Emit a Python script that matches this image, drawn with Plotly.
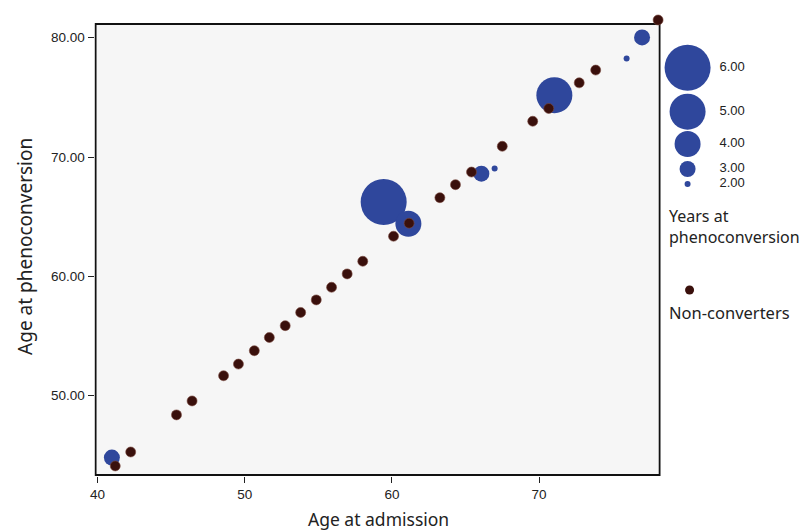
import plotly.graph_objects as go

# ---------------- data ----------------
conv_admission = [40.97, 59.44, 61.12, 66.08, 66.98, 71.04, 75.95, 77.00]
conv_pheno = [44.80, 66.22, 64.40, 68.60, 69.03, 75.18, 78.27, 80.03]
conv_years = [3, 6, 4, 3, 2, 5, 2, 3]

non_admission = [41.20, 42.25, 45.36, 46.42, 48.56, 49.57, 50.65, 51.67, 52.75, 53.80,
                 54.86, 55.90, 56.96, 58.02, 60.11, 61.17, 63.26, 64.32, 65.41, 67.50,
                 69.57, 70.66, 72.73, 73.85, 78.09]
non_pheno = [44.10, 45.27, 48.38, 49.55, 51.66, 52.64, 53.76, 54.87, 55.86, 56.97,
             58.02, 59.08, 60.20, 61.26, 63.36, 64.45, 66.59, 67.68, 68.74, 70.90,
             73.00, 74.07, 76.22, 77.29, 81.49]

legend_years = [6, 5, 4, 3, 2]
legend_labels = ["6.00", "5.00", "4.00", "3.00", "2.00"]

x_ticks = [40, 50, 60, 70]
y_ticks = [50, 60, 70, 80]

# ---------------- style ----------------
W, H = 803, 531
BLUE = "#2f479c"
BROWN = "#3a100c"

PX_PER_X = 14.8
PX_PER_Y = 11.9
X_FRAME = [39.86, 78.2]    # visible frame of the plot
Y_FRAME = [43.34, 81.15]
PAD = 1.0                  # pixels of axis beyond the frame (so frame line isn't clipped)
Y_TOP = 82.0               # axis extends above the frame so the corner dot shows

X_RANGE = [X_FRAME[0] - PAD / PX_PER_X, X_FRAME[1] + PAD / PX_PER_X]
Y_RANGE = [Y_FRAME[0] - PAD / PX_PER_Y, Y_TOP]


def diam(v):
    return 10 * v - 14


# layout positions (pixels) of legend rows
legend_row_px = [67.7, 111.7, 144, 169, 184]
legend_x_px = 687
legend_text_x_px = 719

fig = go.Figure()

fig.add_trace(go.Scatter(
    x=conv_admission, y=conv_pheno, mode="markers",
    marker=dict(color=BLUE, size=[diam(v) for v in conv_years], sizemode="diameter",
                line=dict(width=0), opacity=1),
    cliponaxis=False, showlegend=False, hoverinfo="x+y"))

fig.add_trace(go.Scatter(
    x=non_admission, y=non_pheno, mode="markers",
    marker=dict(color=BROWN, size=10, opacity=1, line=dict(width=0.6, color="#7a4a40")),
    cliponaxis=False, showlegend=False, hoverinfo="x+y"))

# legend subplot (pixel coordinates)
fig.add_trace(go.Scatter(
    x=[legend_x_px] * len(legend_years), y=legend_row_px, mode="markers",
    marker=dict(color=BLUE, size=[diam(v) for v in legend_years], sizemode="diameter",
                line=dict(width=0), opacity=1),
    xaxis="x2", yaxis="y2", showlegend=False, hoverinfo="skip", cliponaxis=False))
fig.add_trace(go.Scatter(
    x=[legend_text_x_px] * len(legend_labels), y=legend_row_px, mode="text",
    text=legend_labels, textposition="middle right",
    textfont=dict(family="Arial, Liberation Sans", size=13, color="#222"),
    xaxis="x2", yaxis="y2", showlegend=False, hoverinfo="skip", cliponaxis=False))
fig.add_trace(go.Scatter(
    x=[689], y=[290], mode="markers",
    marker=dict(color=BROWN, size=9, opacity=1),
    xaxis="x2", yaxis="y2", showlegend=False, hoverinfo="skip", cliponaxis=False))

top_px = 24 - (Y_TOP - Y_FRAME[1]) * PX_PER_Y
x0d, x1d = (92 - PAD) / W, (659 + PAD) / W
y0d, y1d = (H - 475 - PAD) / H, (H - top_px) / H

axis_common = dict(showgrid=False, zeroline=False, showline=False, ticks="outside", ticklen=6,
                   tickwidth=1, tickcolor="#222",
                   tickfont=dict(family="Arial, Liberation Sans", size=13.5, color="#222"))

fig.update_layout(
    width=W, height=H,
    margin=dict(l=0, r=0, t=0, b=0),
    paper_bgcolor="white", plot_bgcolor="rgba(0,0,0,0)",
    xaxis=dict(domain=[x0d, x1d], range=X_RANGE, tickvals=x_ticks, **axis_common),
    yaxis=dict(domain=[y0d, y1d], range=Y_RANGE, tickvals=y_ticks,
               tickformat=".2f", **axis_common),
    xaxis2=dict(domain=[0.83, 1.0], range=[0.83 * W, W], visible=False),
    yaxis2=dict(domain=[0, 1], range=[H, 0], visible=False, anchor="x2"),
    shapes=[dict(type="rect", xref="x", yref="y", x0=X_FRAME[0], x1=X_FRAME[1],
                 y0=Y_FRAME[0], y1=Y_FRAME[1],
                 fillcolor="#f6f6f6", line=dict(width=2, color="#111"), layer="below")],
    annotations=[
        dict(text="Age at admission", xref="paper", yref="paper",
             x=376 / W, y=(H - 519) / H, showarrow=False,
             font=dict(family="Noto Sans", size=17.5, color="#222"),
             xanchor="center", yanchor="middle"),
        dict(text="Age at phenoconversion", xref="paper", yref="paper",
             x=21 / W, y=(H - 246) / H, showarrow=False, textangle=-90,
             font=dict(family="Noto Sans", size=19, color="#222"),
             xanchor="center", yanchor="middle"),
        dict(text="Years at<br>phenoconversion", xref="paper", yref="paper",
             x=666 / W, y=(H - 226) / H, showarrow=False, align="left",
             font=dict(family="Noto Sans", size=16, color="#222"),
             xanchor="left", yanchor="middle"),
        dict(text="Non-converters", xref="paper", yref="paper",
             x=666 / W, y=(H - 312) / H, showarrow=False, align="left",
             font=dict(family="Noto Sans", size=16.5, color="#222"),
             xanchor="left", yanchor="middle"),
    ],
)

fig.write_html("out.html", config={"displayModeBar": False},
               post_script="document.body.style.margin='0';document.body.style.padding='0';"
                           "document.body.style.overflow='hidden';")
